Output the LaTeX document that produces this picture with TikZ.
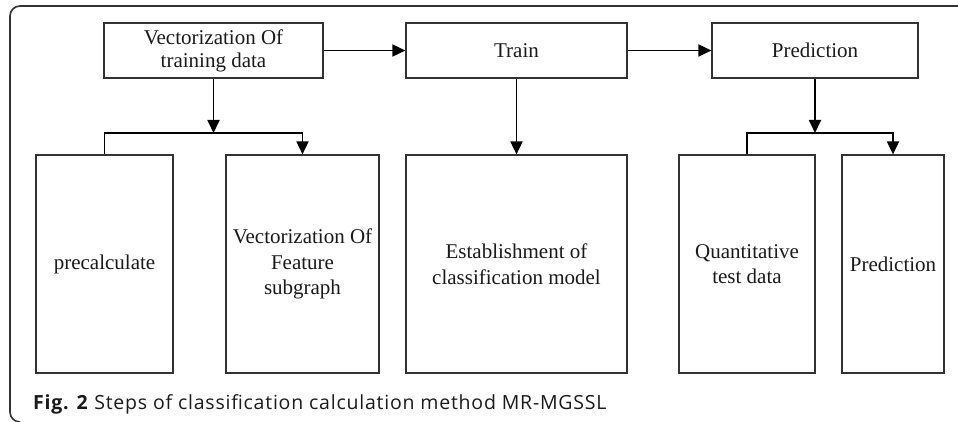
\documentclass[tikz,border=0pt]{standalone}
\usepackage{fontspec}
\setmainfont{Liberation Serif}
\newfontfamily\capfont[LetterSpace=4]{Open Sans}
\usetikzlibrary{arrows.meta,calc}
\definecolor{boxline}{HTML}{333333}
\definecolor{txt}{HTML}{1A1A1A}
\begin{document}
\begin{tikzpicture}[x=1pt,y=-1pt,
  box/.style={draw=boxline,line width=1.2pt,inner sep=0pt,align=center,text=txt,
    font=\fontsize{21}{23}\selectfont},
  tallbox/.style={box,minimum height=218pt,font=\fontsize{21}{25.5}\selectfont},
  arr/.style={draw=black,line width=1.8pt,-{Triangle[length=13pt,width=12pt]}},
  ln/.style={draw=black,line width=1.8pt}]
\useasboundingbox (0,0) rectangle (958,422);
% frame
\draw[line width=1.6pt,color=boxline,rounded corners=10pt] (960,6) -- (10,6) -- (10,422) -- (20,422);
% top row
\node[box,minimum width=219pt,minimum height=55pt] (v1) at (213.5,50.5) {Vectorization Of\\training data};
\node[box,minimum width=221pt,minimum height=55pt] (tr) at (516.5,50.5) {Train};
\node[box,minimum width=206pt,minimum height=55pt] (pr) at (815,50.5) {Prediction};
% bottom row
\node[tallbox,minimum width=137pt] (pc) at (104.5,264) {precalculate};
\node[tallbox,minimum width=153pt] (vf) at (302.5,264) {Vectorization Of\\Feature\\subgraph};
\node[tallbox,minimum width=221pt] (es) at (516.5,264) {Establishment of\\classification model};
\node[tallbox,minimum width=136pt] (qt) at (747,264) {Quantitative\\test data};
\node[tallbox,minimum width=102pt] (p2) at (893,264) {Prediction};
% connectors
\draw[arr] (v1.east) -- (tr.west);
\draw[arr] (tr.east) -- (pr.west);
\coordinate (b1) at (213.5,133);
\coordinate (b2) at (815,133);
\draw[arr] (v1.south) -- (b1);
\draw[ln] (pc.north) |- (b1);
\draw[arr] (b1) -| (vf.north);
\draw[arr] (tr.south) -- (es.north);
\draw[arr] (pr.south) -- (b2);
\draw[ln] (qt.north) |- (b2);
\draw[arr] (b2) -| (p2.north);
% caption
\node[anchor=base west,inner sep=0pt,text=txt,font=\capfont\fontsize{19.5}{22}\selectfont] (cap) at (33,409)
  {\textbf{Fig. 2} Steps of classification calculation method MR-MGSSL};
\end{tikzpicture}
\end{document}
